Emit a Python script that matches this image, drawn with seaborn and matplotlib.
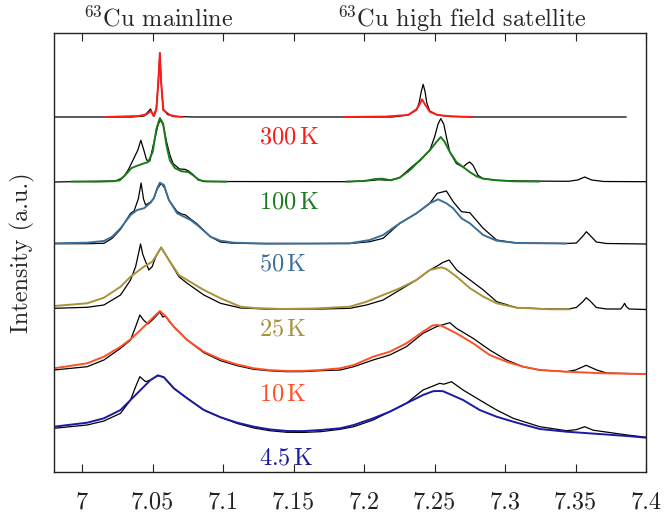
import matplotlib
matplotlib.use("Agg")
import matplotlib.pyplot as plt
import pandas as pd
import seaborn as sns
from matplotlib.transforms import blended_transform_factory

# ---------------------------------------------------------------------------
# 63Cu NMR field-swept spectra; field in T, intensity above each baseline (a.u.)
# black traces: measured spectra, coloured traces: comparison spectra
# ---------------------------------------------------------------------------
temperatures = ["300", "100", "50", "25", "10", "4.5"]
baselines = [355, 290, 228, 162.5, 98, 34.3]
trace_colors = ["#ff1a1a", "#1c7a1c", "#3d6f98", "#a8923a", "#ff5024", "#1a1aa6"]

tick_values = [7.0, 7.05, 7.1, 7.15, 7.2, 7.25, 7.3, 7.35, 7.4]
tick_labels = ["7", "7.05", "7.1", "7.15", "7.2", "7.25", "7.3", "7.35", "7.4"]

# 300 K
black_300_x = [6.98, 7.035, 7.044, 7.0485, 7.0505, 7.0525, 7.054, 7.0551, 7.056, 7.0575, 7.0605, 7.065,
               7.08, 7.22, 7.2312, 7.2372, 7.239, 7.2405, 7.2419, 7.2433, 7.2445, 7.2466, 7.252, 7.262,
               7.28, 7.386]
black_300_y = [0, 0, 1, 8, 1, 8, 35, 64, 35, 8, 2.5, 0.5,
               0, 0, 2, 7, 14, 25, 32.7, 25, 14, 6, 2, 0.6,
               0, 0]
color_300_main_x = [7.017, 7.040, 7.0457, 7.0487, 7.051, 7.0527, 7.054, 7.0551, 7.056, 7.0575, 7.0622,
                    7.066, 7.071]
color_300_main_y = [0, 1, 2.7, 6, 1, 8, 35, 64, 35, 7, 2, 0.8, 0]
color_300_sat_x = [7.186, 7.215, 7.2312, 7.2372, 7.2395, 7.2411, 7.243, 7.2466, 7.252, 7.262, 7.277]
color_300_sat_y = [0, 0.4, 2, 7.7, 13, 17.7, 13, 5.3, 2, 0.6, 0]

# 100 K
black_100_x = [6.98, 7.000, 7.024, 7.0295, 7.033, 7.036, 7.0395, 7.0416, 7.0437, 7.0457, 7.048, 7.0504,
               7.054, 7.0556, 7.0575, 7.0599, 7.0622, 7.0645, 7.069, 7.0728, 7.0755, 7.0787, 7.0823,
               7.088, 7.19, 7.205, 7.21, 7.218, 7.2253, 7.2324, 7.236, 7.2395, 7.2466, 7.25, 7.2525,
               7.2544, 7.2565, 7.2584, 7.2608, 7.2655, 7.2702, 7.273, 7.2749, 7.2773, 7.2808, 7.2844,
               7.294, 7.31, 7.345, 7.3515, 7.3565, 7.3615, 7.37, 7.4]
black_100_y = [0, 0.5, 1, 5, 13, 21.7, 32, 41.7, 32, 22, 21, 36.7,
               58, 62, 57, 40, 27, 18.4, 13, 12.7, 11, 7.4, 2,
               0.5, 0.3, 1.5, 2.3, 1.7, 4.4, 13.3, 17.7, 21, 31.7, 45, 58,
               63.4, 58, 45, 30, 18.4, 15, 18.4, 20, 16.7, 6.7, 3.4,
               1.7, 1, 0.7, 2, 5, 2, 0.5, 0.3]
color_100_main_x = [6.9925, 7.010, 7.022, 7.0267, 7.0315, 7.035, 7.0386, 7.0433, 7.0468, 7.05, 7.0527,
                    7.0551, 7.0574, 7.0598, 7.0622, 7.0657, 7.0705, 7.0752, 7.0787, 7.0823, 7.0858, 7.1024]
color_100_main_y = [0.5, 0.3, 0.8, 1.7, 8.4, 14, 16, 18.4, 20, 30, 53.4,
                    64, 58.4, 36.7, 21.7, 14, 10.7, 10, 6.7, 2.7, 0.7, 0.3]
color_100_sat_x = [7.1876, 7.200, 7.208, 7.213, 7.219, 7.2253, 7.2324, 7.2395, 7.2466, 7.2513, 7.2544,
                   7.2572, 7.2608, 7.2655, 7.2702, 7.2749, 7.2797, 7.2844, 7.2939, 7.3057, 7.3246]
color_100_sat_y = [0.5, 1, 3, 3.3, 1.7, 4.4, 11.7, 21.7, 31.7, 40, 45,
                   40, 30, 20, 15, 10, 5.7, 3.4, 1.7, 0.7, 0.5]

# 50 K
black_50_x = [6.98, 7.0035, 7.0154, 7.0213, 7.0272, 7.0343, 7.0368, 7.0398, 7.0418, 7.0435, 7.045,
              7.0485, 7.0508, 7.0532, 7.056, 7.0585, 7.0615, 7.0674, 7.0705, 7.0733, 7.0769, 7.0816,
              7.091, 7.098, 7.1076, 7.13, 7.1899, 7.204, 7.2135, 7.2253, 7.2372, 7.2466, 7.2519,
              7.2584, 7.2632, 7.2691, 7.275, 7.2845, 7.294, 7.3081, 7.3435, 7.3506, 7.3553, 7.3577,
              7.36, 7.3648, 7.372, 7.4]
black_50_y = [0.3, 0.3, 0.7, 5.7, 14.7, 30.7, 33, 45, 61, 45, 39,
              42, 45.7, 55, 60.7, 56, 44, 32.3, 30, 29, 25, 20,
              7.3, 2, 0.7, 0.3, 0.5, 2.3, 5.7, 20.7, 30.7, 40.7, 50.7,
              53, 42.3, 32.3, 31.3, 15.7, 4, 1, 0.5, 1, 8, 12.3,
              9, 2, 0.5, 0]
color_50_x = [6.98, 7.0035, 7.0154, 7.0213, 7.0272, 7.0343, 7.039, 7.0438, 7.0485, 7.0508, 7.0532,
              7.0551, 7.058, 7.0615, 7.0674, 7.0721, 7.0769, 7.0816, 7.091, 7.098, 7.1076, 7.13,
              7.16, 7.1899, 7.204, 7.2135, 7.2253, 7.2372, 7.2466, 7.2525, 7.2584, 7.2632, 7.2691,
              7.275, 7.2845, 7.294, 7.3081, 7.3436]
color_50_y = [0.7, 1.3, 3, 7.3, 15.7, 29, 34, 35.7, 41.3, 45.7, 55.7,
              61.3, 59, 44, 30.7, 27.3, 24, 19, 7.3, 3.3, 1.3, 0.5,
              0.5, 0.7, 4, 9, 20.7, 30.7, 40.7, 44.7, 40.7, 35.7, 25.7,
              20.7, 9, 3.3, 1, 0.5]

# 25 K
black_25_x = [6.98, 7.0035, 7.0154, 7.0272, 7.0343, 7.0379, 7.0398, 7.0414, 7.043, 7.0473, 7.0497,
              7.052, 7.056, 7.0615, 7.0686, 7.0745, 7.0863, 7.0982, 7.1123, 7.13, 7.17, 7.1899,
              7.2017, 7.2135, 7.2253, 7.2371, 7.2466, 7.2513, 7.2558, 7.2603, 7.2657, 7.2752, 7.2846,
              7.2941, 7.3083, 7.332, 7.345, 7.3506, 7.3553, 7.3576, 7.36, 7.3648, 7.372, 7.382,
              7.3835, 7.3848, 7.386, 7.388, 7.4]
black_25_y = [1.2, 2.2, 4.5, 14.5, 29.5, 42.8, 55, 65.5, 55, 39.5, 43,
              52, 62, 49.5, 32.8, 26.2, 14.5, 6.2, 1.5, 0.5, 0.5, 1.2,
              4.5, 9.5, 19.5, 29.5, 39.5, 43, 47, 49.5, 39.5, 29.5, 19.5,
              7.8, 1.8, 0.5, 0.5, 2, 8, 11.8, 9, 2, 0.5, 0.5,
              3, 6.2, 3, 0.5, 0]
color_25_x = [6.98, 7.0035, 7.0154, 7.0272, 7.0343, 7.0438, 7.0497, 7.052, 7.056, 7.0615, 7.0686,
              7.0745, 7.0863, 7.0982, 7.1123, 7.1218, 7.142, 7.165, 7.1899, 7.2017, 7.2135, 7.2253,
              7.2371, 7.2466, 7.2513, 7.2549, 7.2583, 7.2657, 7.2752, 7.2846, 7.2941, 7.3083, 7.332,
              7.346]
color_25_y = [3.5, 6.2, 11.8, 22.8, 32.8, 42.8, 47.8, 52.8, 62.2, 49.5, 34.5,
              29.5, 19.5, 11.2, 2.8, 1.5, 0.5, 1, 2.8, 7.8, 14.5, 21.2,
              29.5, 39.5, 41, 42.2, 40.5, 32.8, 21.2, 12.8, 6.2, 1.8, 0.2,
              0.2]

# 10 K
black_10_x = [6.98, 7.0035, 7.0154, 7.0272, 7.0343, 7.0379, 7.0409, 7.0435, 7.0466, 7.0505, 7.0551,
              7.0572, 7.0591, 7.062, 7.065, 7.0745, 7.0863, 7.0982, 7.11, 7.1218, 7.133, 7.1454,
              7.157, 7.169, 7.183, 7.1927, 7.2064, 7.2182, 7.23, 7.2418, 7.2513, 7.2565, 7.2608,
              7.2655, 7.2773, 7.2891, 7.301, 7.3128, 7.3246, 7.3435, 7.35, 7.3576, 7.365, 7.372,
              7.4]
black_10_y = [4, 7.3, 14, 25.7, 34, 47.3, 59, 54, 50, 55, 62,
              57, 58, 52, 47.3, 34, 21.3, 13.3, 8.3, 4.7, 3.2, 2.3,
              2.4, 3.3, 4, 7.3, 14, 19, 27.3, 40.7, 47.3, 49.5, 51.3,
              45.7, 35.7, 24, 14, 7.3, 4, 2.3, 4, 8.7, 4, 1,
              0]
color_10_x = [6.98, 7.0035, 7.0154, 7.0272, 7.0343, 7.0414, 7.0485, 7.0551, 7.0591, 7.065, 7.0745,
              7.0863, 7.0982, 7.11, 7.1218, 7.133, 7.1454, 7.157, 7.169, 7.183, 7.1927, 7.2064,
              7.2182, 7.23, 7.2418, 7.2485, 7.2513, 7.2545, 7.2655, 7.2773, 7.2891, 7.301, 7.3128,
              7.3246, 7.3435, 7.37, 7.4]
color_10_y = [5.7, 10.7, 17.3, 27.3, 34.7, 44, 54, 63, 58, 47.3, 34,
              22.3, 14.7, 9.5, 5.7, 3.9, 3, 3.1, 4, 5.7, 9, 17.3,
              22.3, 30.7, 42.3, 48.5, 49, 48.5, 40.7, 30.7, 19, 12.3, 7.3,
              4, 2.3, 0.7, 0]

# 4.5 K
black_4p5_x = [6.98, 7.0035, 7.0154, 7.0272, 7.0343, 7.0379, 7.0409, 7.045, 7.0485, 7.0537, 7.058,
               7.065, 7.0745, 7.0863, 7.0982, 7.11, 7.1218, 7.133, 7.1454, 7.157, 7.169, 7.183,
               7.1927, 7.2064, 7.2182, 7.23, 7.2418, 7.2537, 7.2565, 7.262, 7.2702, 7.282, 7.294,
               7.3058, 7.3246, 7.3435, 7.3505, 7.3565, 7.3625, 7.3867, 7.4]
black_4p5_y = [9.4, 12.7, 16.7, 24.4, 37.7, 51, 61, 56, 57.7, 62, 60.4,
               49.4, 39.4, 27.7, 20.4, 14.2, 9.7, 7, 5.4, 5.3, 6, 8.4,
               11, 17.7, 26, 34.4, 47.7, 54.4, 53.5, 56, 47.7, 37.7, 27.7,
               19.4, 11, 7, 8, 11, 7.5, 2.7, 0.5]
color_4p5_x = [6.98, 7.0035, 7.0154, 7.0272, 7.0343, 7.0414, 7.0485, 7.0537, 7.058, 7.065, 7.0745,
               7.0863, 7.0982, 7.11, 7.1218, 7.133, 7.1454, 7.157, 7.169, 7.183, 7.1927, 7.2064,
               7.2182, 7.23, 7.2418, 7.249, 7.2525, 7.256, 7.2702, 7.282, 7.294, 7.3058, 7.3246,
               7.3435, 7.3867, 7.4]
color_4p5_y = [11, 15, 19.4, 27.7, 37.7, 47.7, 57.7, 62.4, 60.4, 49.4, 39.4,
               27.7, 20.4, 15, 11, 8.3, 6.7, 6.6, 7.7, 9.4, 12.7, 19.4,
               26, 34.4, 42.7, 46.5, 46.7, 46.5, 37.7, 27.7, 21, 16, 8.7,
               6, 1.7, 0]

black_traces = [
    [(black_300_x, black_300_y)],
    [(black_100_x, black_100_y)],
    [(black_50_x, black_50_y)],
    [(black_25_x, black_25_y)],
    [(black_10_x, black_10_y)],
    [(black_4p5_x, black_4p5_y)],
]
color_traces = [
    [(color_300_main_x, color_300_main_y), (color_300_sat_x, color_300_sat_y)],
    [(color_100_main_x, color_100_main_y), (color_100_sat_x, color_100_sat_y)],
    [(color_50_x, color_50_y)],
    [(color_25_x, color_25_y)],
    [(color_10_x, color_10_y)],
    [(color_4p5_x, color_4p5_y)],
]


def stacked_frame(segments, offset):
    """Long-form table of one trace, shifted up to its baseline."""
    rows = []
    for k, (xs, ys) in enumerate(segments):
        for x, y in zip(xs, ys):
            rows.append((k, x, y + offset))
    return pd.DataFrame(rows, columns=["segment", "field", "signal"])


FS = 17.5

sns.set_theme(style="ticks")
plt.rcParams.update({
    "font.family": "cmr10",
    "mathtext.fontset": "cm",
    "axes.formatter.use_mathtext": True,
    "font.size": FS,
    "axes.edgecolor": "#222222",
    "axes.linewidth": 1.0,
    "xtick.color": "#222222",
})

fig = plt.figure(figsize=(6.64, 5.15), dpi=100)
ax = fig.add_axes([54 / 664, 43 / 515, 592 / 664, 439 / 515])

for segs, off in zip(black_traces, baselines):
    sns.lineplot(data=stacked_frame(segs, off), x="field", y="signal", units="segment",
                 estimator=None, sort=False, color="black", linewidth=0.9, ax=ax, legend=False)

for segs, off, col in zip(color_traces, baselines, trace_colors):
    sns.lineplot(data=stacked_frame(segs, off), x="field", y="signal", units="segment",
                 estimator=None, sort=False, color=col, linewidth=1.4, ax=ax, legend=False)

for temp, off, col in zip(temperatures, baselines, trace_colors):
    ax.text(7.1253, off - 26.5, rf"$\mathrm{{{temp}\,K}}$", color=col, fontsize=FS,
            ha="left", va="baseline")

top = blended_transform_factory(ax.transData, ax.transAxes)
ax.text(7.0539, 1.0144, r"$^{63}$Cu mainline", transform=top, ha="center", va="baseline",
        fontsize=FS)
ax.text(7.2695, 1.0144, r"$^{63}$Cu high field satellite", transform=top, ha="center",
        va="baseline", fontsize=FS)

ax.set_xlim(6.98, 7.4)
ax.set_ylim(0, 439)
ax.set_xticks(tick_values)
ax.set_xticklabels(tick_labels)
ax.set_yticks([])
ax.tick_params(axis="x", direction="in", top=True, bottom=True, length=6, width=0.8, pad=14,
               labelsize=FS)
ax.set_xlabel("")
ax.set_ylabel("Intensity (a.u.)", fontsize=FS, labelpad=14)

fig.savefig("out.png", dpi=100)
